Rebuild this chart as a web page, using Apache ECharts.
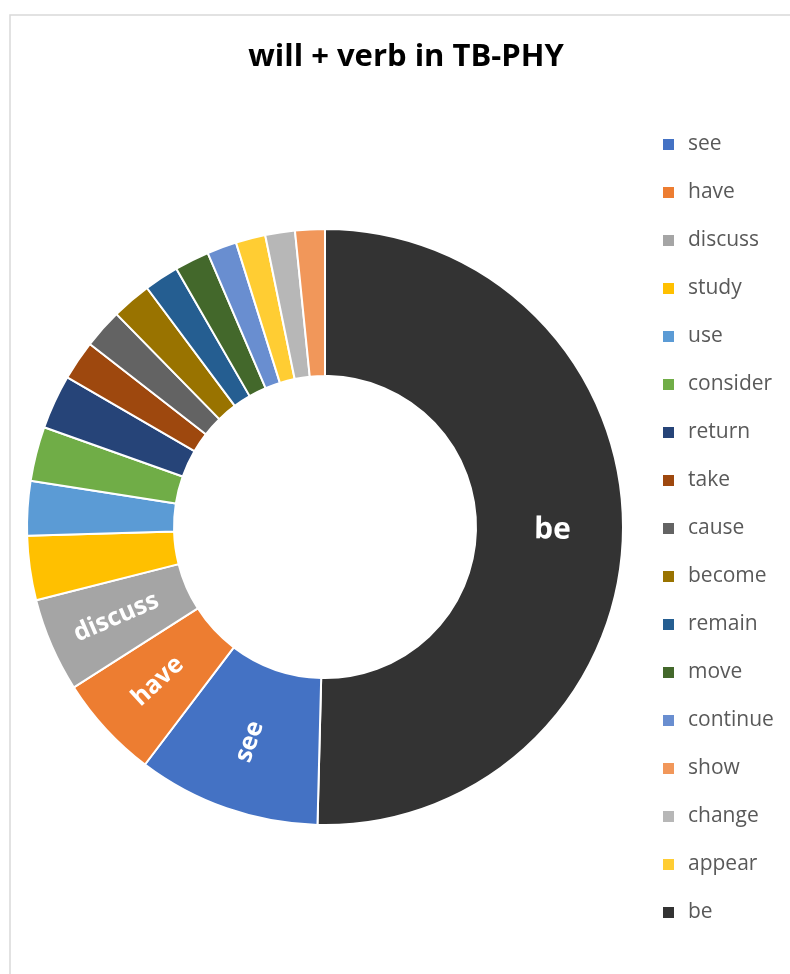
<!DOCTYPE html>
<html>
<head>
<meta charset="utf-8">
<script src="https://cdn.jsdelivr.net/npm/echarts@6/dist/echarts.min.js"></script>
<style>
  html, body { margin: 0; padding: 0; background: #fff; }
  #chart { width: 790px; height: 974px; }
</style>
</head>
<body>
<div id="chart"></div>
<script>
// Verbs in the order they sit round the ring, clockwise from 12 o'clock
const verbs = ['be', 'see', 'have', 'discuss', 'study', 'use', 'consider', 'return', 'take',
  'cause', 'become', 'remain', 'move', 'continue', 'appear', 'change', 'show'];
// Occurrences of "will + verb" for each verb above
const counts = [188, 37, 21, 19, 13, 11, 11, 11, 8, 8, 8, 7, 7, 6, 6, 6, 6];
// Order of the entries in the legend
const legendOrder = ['see', 'have', 'discuss', 'study', 'use', 'consider', 'return', 'take',
  'cause', 'become', 'remain', 'move', 'continue', 'show', 'change', 'appear', 'be'];
// Slices that carry their name inside the ring
const labelledVerbs = ['be', 'see', 'have', 'discuss'];

const palette = {
  see: '#4472C4', have: '#ED7D31', discuss: '#A5A5A5', study: '#FFC000', use: '#5B9BD5',
  consider: '#70AD47', 'return': '#264478', take: '#9E480E', cause: '#636363',
  become: '#997300', remain: '#255E91', move: '#43682B', 'continue': '#698ED0',
  show: '#F1975A', change: '#B7B7B7', appear: '#FFCD33', be: '#333333'
};

const FONT = '"Open Sans", "DejaVu Sans", sans-serif';

const pieData = verbs.map((name, i) => {
  const item = {
    name: name,
    value: counts[i],
    itemStyle: { color: palette[name] },
    label: { show: labelledVerbs.indexOf(name) >= 0 }
  };
  // the dominant slice gets a larger caption
  if (name === 'be') item.label.fontSize = 30;
  return item;
});

const chart = echarts.init(document.getElementById('chart'), null, { renderer: 'canvas' });
chart.setOption({
  animation: false,
  backgroundColor: '#ffffff',
  title: {
    text: 'will + verb in TB-PHY',
    left: 401,
    top: 37,
    textAlign: 'center',
    textStyle: { fontFamily: FONT, fontSize: 31, fontWeight: 'bold', color: '#000000' }
  },
  legend: {
    orient: 'vertical',
    left: 661,
    top: 134,
    padding: 0,
    data: legendOrder,
    icon: 'rect',
    itemWidth: 13,
    itemHeight: 13,
    itemGap: 27,
    selectedMode: false,
    textStyle: {
      fontFamily: FONT, fontSize: 21, color: '#595959', lineHeight: 20,
      padding: [0, 0, 0, 8]
    }
  },
  graphic: [{
    type: 'rect',
    shape: { x: 10, y: 15, width: 820, height: 1000 },
    style: { fill: 'none', stroke: '#d9d9d9', lineWidth: 1.5 },
    silent: true
  }],
  series: [{
    type: 'pie',
    center: [325, 527],
    radius: [151, 298],
    startAngle: 90,
    clockwise: true,
    avoidLabelOverlap: false,
    emphasis: { disabled: true },
    itemStyle: { borderColor: '#ffffff', borderWidth: 2 },
    label: {
      position: 'inside',
      rotate: 'radial',
      formatter: '{b}',
      color: '#ffffff',
      fontFamily: FONT,
      fontSize: 25,
      fontWeight: 'bold'
    },
    labelLine: { show: false },
    data: pieData
  }]
});
</script>
</body>
</html>
